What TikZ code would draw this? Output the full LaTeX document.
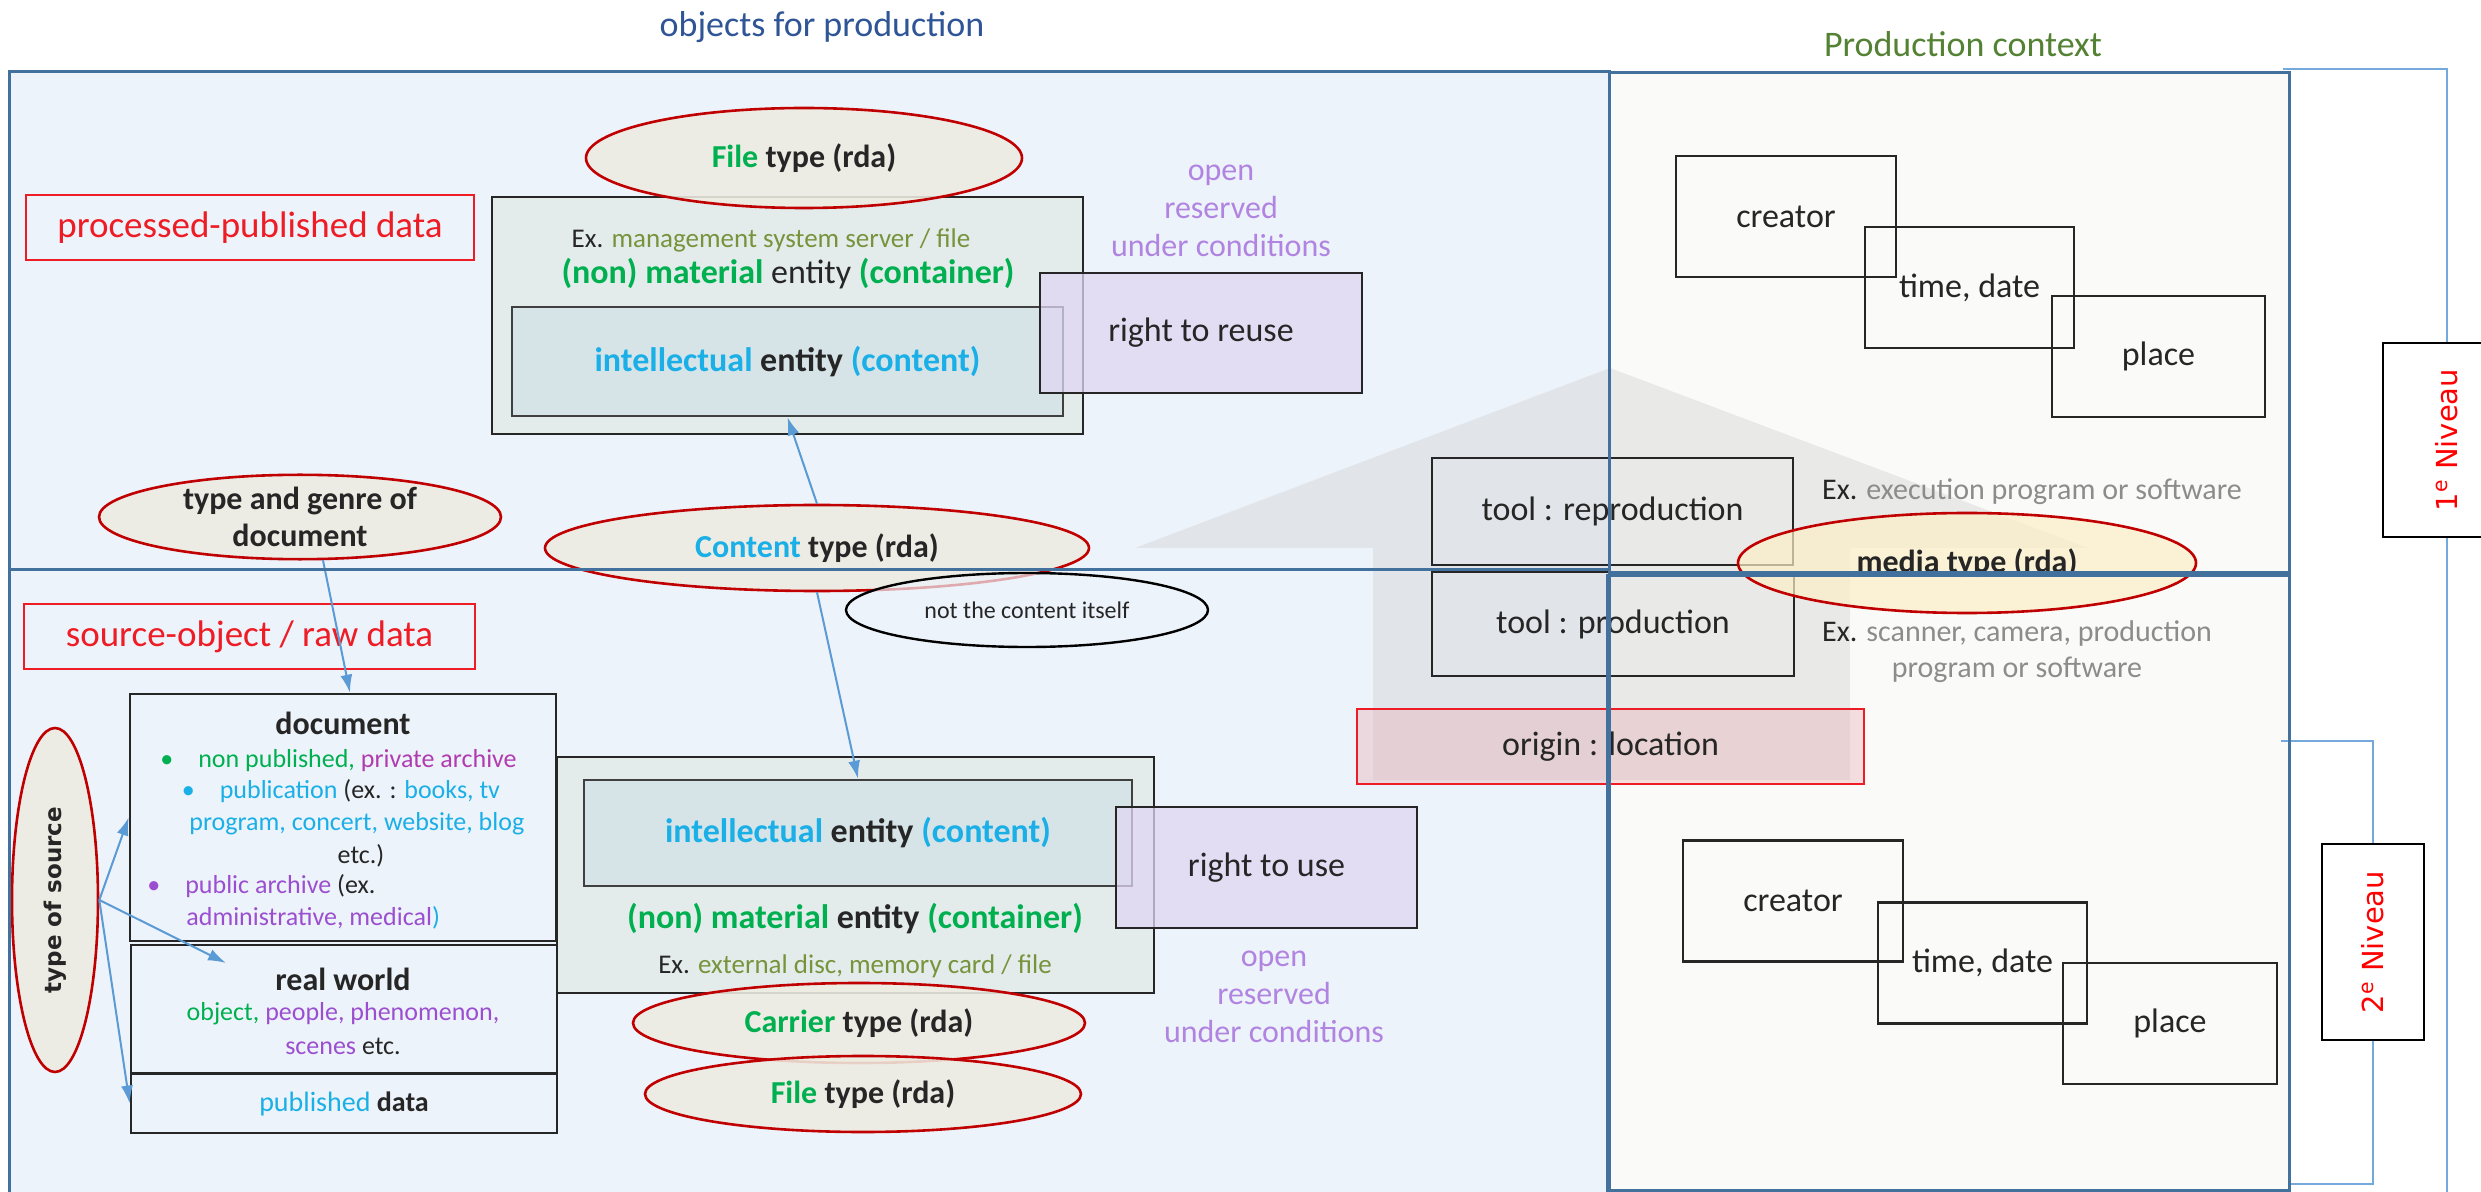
\documentclass[tikz,border=0pt]{standalone}
\usepackage{xcolor}
\usepackage{fontspec}
\setmainfont{Carlito}
\newfontfamily\verdana{DejaVu Sans}
\usepackage{tikz}
\usetikzlibrary{shapes, positioning, calc, arrows.meta}

\definecolor{panelblue}{HTML}{EDF3FA}
\definecolor{panelgray}{HTML}{FAFAF8}
\definecolor{panelline}{HTML}{41719C}
\definecolor{titleblue}{HTML}{2F5597}
\definecolor{titlegreen}{HTML}{548235}
\definecolor{rdared}{HTML}{C00000}
\definecolor{rdafill}{HTML}{EEECE1}
\definecolor{mediafill}{HTML}{FCEFC8}
\definecolor{boxred}{HTML}{EE1C25}
\definecolor{contfill}{HTML}{E3ECEB}
\definecolor{intfill}{HTML}{D6E4E8}
\definecolor{rightfill}{HTML}{E0D6F2}
\definecolor{originfill}{HTML}{E8A8AE}
\definecolor{shaftgray}{HTML}{CCCCCC}
\definecolor{linkblue}{HTML}{5B9BD5}
\definecolor{cgreen}{HTML}{00B050}
\definecolor{ccyan}{HTML}{1AAFE6}
\definecolor{colive}{HTML}{77933C}
\definecolor{clilac}{HTML}{B084E0}
\definecolor{cmagenta}{HTML}{B03CB0}
\definecolor{cpurple}{HTML}{9B4FD0}
\definecolor{cgray}{HTML}{8C8C8C}
\definecolor{darktext}{HTML}{262626}

\begin{document}
\begin{tikzpicture}[x=0.5pt, y=-0.5pt,
	every node/.style={inner sep=0pt, align=center, text=darktext},
	rda/.style={ellipse, draw=rdared, line width=1.3pt, fill=rdafill, fill opacity=.88, text opacity=1, font=\fontsize{16}{18.5}\selectfont\bfseries},
	box/.style={draw=black!85, line width=1.3pt},
	tag/.style={draw=boxred, line width=1.3pt, text=boxred, font=\fontsize{18.5}{22}\selectfont},
	link/.style={draw=linkblue, line width=1pt, -{Latex[length=9pt,width=6pt]}},
	bracket/.style={draw=linkblue!85, line width=.8pt},
	panel/.style={draw=panelline, line width=1.5pt},
	big/.style={font=\fontsize{17}{20}\selectfont},
	small/.style={font=\fontsize{13}{15.5}\selectfont}]
	\useasboundingbox (0,0) rectangle (2481,1192);

	% panels
	\fill[panelblue] (9,72) rectangle (1609,1210);
	\fill[panelgray] (1609,73) rectangle (2289,1190);
	\fill[shaftgray, opacity=.35] (1610,368) -- (2088,548) -- (1850,548) -- (1850,780) -- (1373,780) -- (1373,548) -- (1135,548) -- cycle;

	\node[font=\fontsize{18}{21}\selectfont, text=titleblue] (objT) at (822,27) {objects for production};
	\node[font=\fontsize{18}{21}\selectfont, text=titlegreen] (ctxT) at (1963,44) {Production context};

	% processed data
	\node[tag, minimum width=224pt, minimum height=32.5pt] (proc) at (250,227.5) {processed-published data};
	\node[box, fill=contfill, minimum width=295.5pt, minimum height=118.5pt] (contA) at (787.5,315.5) {};
	\node[box, draw=black!75, fill=intfill, minimum width=275.5pt, minimum height=54.5pt, font=\fontsize{17}{20}\selectfont\bfseries] (intA) at (787.5,361.5) {{\color{ccyan}intellectual} entity {\color{ccyan}(content)}};
	\node[font=\fontsize{13.5}{16}\selectfont] (exA) at (771,240) {Ex. {\color{colive}management system server / file}};
	\node[big] (matA) at (788,274) {{\color{cgreen}\bfseries (non) material} entity {\color{cgreen}\bfseries (container)}};
	\node[rda, minimum width=218pt, minimum height=50pt] (fileA) at (804,158) {{\color{cgreen}File} type (rda)};
	\node[box, fill=rightfill, fill opacity=.75, text opacity=1, minimum width=161pt, minimum height=60pt, big] (reuse) at (1201,333) {right to reuse};
	\node[font=\fontsize{16}{19}\selectfont, text=clilac] (condA) at (1221,211) {open\\reserved\\under conditions};

	\node[rda, minimum width=201pt, minimum height=36pt] (genre) at (300,517) {type and genre of\\document};
	\node[rda, minimum width=272pt, minimum height=43pt] (ctype) at (817,548) {{\color{ccyan}Content} type (rda)};
	\node[ellipse, draw=black, line width=1.2pt, fill=panelblue, fill opacity=.7, text opacity=1, minimum width=181pt, minimum height=37pt, font=\fontsize{12}{14}\selectfont] (notc) at (1027,610) {not the content itself};

	% source object
	\node[tag, minimum width=225.5pt, minimum height=32.5pt] (srcobj) at (249.5,636.5) {source-object / raw data};
	\node[rda, minimum width=43pt, minimum height=172pt] (tsrc) at (55,900) {\rotatebox{90}{\verdana\fontsize{11.5}{14}\selectfont\bfseries type of source}};

	\node[box, minimum width=213pt, minimum height=123.5pt] (doc) at (343,817.5) {};
	\node[box, minimum width=213pt, minimum height=64pt] (rw) at (344,1009) {};
	\node[box, minimum width=213pt, minimum height=29.5pt, font=\fontsize{14}{17}\selectfont] (pub) at (344,1103.5) {{\color{ccyan}published} \textbf{data}};

	\node[font=\fontsize{16}{19}\selectfont\bfseries] (docT) at (343,723) {document};
	\node[small, anchor=base west] (docA) at (160,767) {{\color{cgreen}\textbullet\hspace{12.5pt}non published, }{\color{cmagenta}private archive}};
	\node[small, anchor=base west] (docB) at (181.5,798) {{\color{ccyan}\textbullet\hspace{12.5pt}publication} (ex. : {\color{ccyan}books, tv}};
	\node[small, anchor=base west, text=ccyan] (docC) at (189,830) {program, concert, website, blog};
	\node[small, anchor=base] (docD) at (361,863) {etc.)};
	\node[small, anchor=base west] (docE) at (147,893) {{\color{cpurple}\textbullet\hspace{12.5pt}public archive} (ex.};
	\node[small, anchor=base west] (docF) at (186,925) {{\color{cpurple}administrative, medical}{\color{ccyan})}};

	\node[font=\fontsize{16}{19}\selectfont\bfseries] (rwT) at (343,979) {real world};
	\node[small] (rwA) at (343,1014) {{\color{cgreen}object,} {\color{cpurple}people, phenomenon,}};
	\node[small] (rwB) at (343,1046) {{\color{cpurple}scenes} etc.};

	\node[box, fill=contfill, minimum width=298.5pt, minimum height=118pt] (contB) at (855.5,875) {};
	\node[box, draw=black!75, fill=intfill, minimum width=274pt, minimum height=53pt, font=\fontsize{17}{20}\selectfont\bfseries] (intB) at (858,833) {{\color{ccyan}intellectual} entity {\color{ccyan}(content)}};
	\node[font=\fontsize{17}{20}\selectfont\bfseries] (matB) at (855,919) {{\color{cgreen}(non) material} entity {\color{cgreen}(container)}};
	\node[font=\fontsize{13.5}{16}\selectfont] (exB) at (855,966) {Ex. {\color{colive}external disc, memory card / file}};
	\node[box, fill=rightfill, fill opacity=.75, text opacity=1, minimum width=150.5pt, minimum height=60.5pt, big] (use) at (1266.5,867.5) {right to use};
	\node[font=\fontsize{16}{19}\selectfont, text=clilac] (condB) at (1274,997) {open\\reserved\\under conditions};
	\node[rda, minimum width=226pt, minimum height=40pt] (carrier) at (859,1023) {{\color{cgreen}Carrier} type (rda)};
	\node[rda, minimum width=218pt, minimum height=38pt] (fileB) at (863,1094) {{\color{cgreen}File} type (rda)};

	% tools
	\node[box, minimum width=180.5pt, minimum height=53.5pt, big] (toolR) at (1612.5,511.5) {tool : reproduction};
	\node[box, minimum width=181pt, minimum height=52pt, big] (toolP) at (1613,624) {tool : production};
	\node[draw=boxred, line width=1.3pt, fill=originfill, fill opacity=.35, text opacity=1, minimum width=253.5pt, minimum height=37.5pt, big] (origin) at (1610.5,746.5) {origin : location};
	\node[font=\fontsize{15}{18}\selectfont] (exTool) at (2032,492) {Ex. {\color{cgray}execution program or software}};
	\node[ellipse, draw=rdared, line width=1.3pt, fill=mediafill, fill opacity=.7, text opacity=1, minimum width=229pt, minimum height=50pt, font=\fontsize{16}{19}\selectfont\bfseries] (media) at (1967,563) {media type (rda)};
	\node[font=\fontsize{15}{18}\selectfont] (exProd) at (2017,652) {Ex. {\color{cgray}scanner, camera, production}\\{\color{cgray}program or software}};

	% production context
	\foreach \nm/\lbl/\cx/\cy/\w in {creatorA/creator/1786/216.5/110, timeA/{time, date}/1969.5/287.5/104.5, placeA/place/2158.5/356.5/106.5, creatorB/creator/1793/901/110, timeB/{time, date}/1982.5/963/104.5, placeB/place/2170/1023.5/107}
	\node[box, minimum width=\w pt, minimum height=60.5pt, big] (\nm) at (\cx,\cy) {\lbl};

	\node[box, draw=black, fill=white, minimum width=64pt, minimum height=97pt] (lvl1) at (2447,440) {\rotatebox{90}{\verdana\fontsize{14.5}{17}\selectfont\color{red}1\textsuperscript{e} Niveau}};
	\node[box, draw=black, fill=white, minimum width=51pt, minimum height=98pt] (lvl2) at (2373,942) {\rotatebox{90}{\verdana\fontsize{14.5}{17}\selectfont\color{red}2\textsuperscript{e} Niveau}};

	\coordinate (b1) at (2283,69);
	\coordinate (b1end) at (2447,1230);
	\coordinate (b2) at (2281,741);
	\coordinate (b2end) at (2290,1184);
	\draw[bracket] (b1) -| (lvl1.north);
	\draw[bracket] (lvl1.south) -- (b1end);
	\draw[bracket] (b2) -| (lvl2.north);
	\draw[bracket] (lvl2.south) |- (b2end);

	% links
	\coordinate (rwtip) at (226,963);
	\draw[link] (ctype.north) -- (intA.south);
	\draw[link] (ctype.south) -- (intB.north);
	\draw[link] (genre.-62) -- ([xshift=3.5pt]doc.north);
	\draw[link] (tsrc.east) -- (doc.west);
	\draw[link] (tsrc.east) -- (rwtip);
	\draw[link] (tsrc.east) -- (pub.west);

	\draw[panel] (9,72) rectangle (1609,570);
	\draw[panel] (9,570) rectangle (1609,1210);
	\draw[panel] (1609,73) rectangle (2289,573);
	\draw[panel] (1607,576) rectangle (2289,1190);
\end{tikzpicture}
\end{document}
